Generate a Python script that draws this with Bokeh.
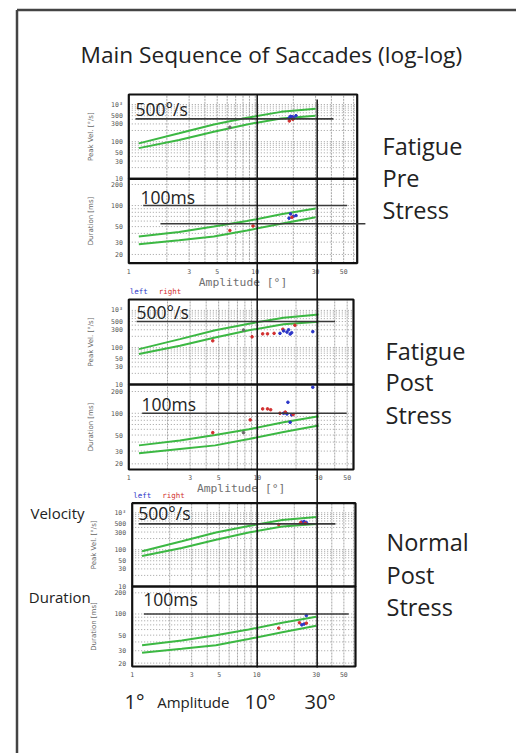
import numpy as np
from bokeh.plotting import figure
from bokeh.models import Range1d, LogScale
from bokeh.core.properties import value
from bokeh.embed import file_html
from bokeh.resources import INLINE

# ---------------- data ----------------
amp_ticks = [1, 3, 5, 10, 30, 50]
amp_tick_labels = ["1", "3", "5", "10", "30", "50"]
vel_ticks = [10, 30, 50, 100, 300, 500, 1000]
vel_tick_labels = ["10", "30", "50", "100", "300", "500", "10³"]
dur_ticks = [20, 30, 50, 100, 200]
dur_tick_labels = ["20", "30", "50", "100", "200"]

# normative main-sequence band (amplitude in deg)
norm_amp = [1.2, 2.5, 4.7, 8.6, 16, 30]
norm_vel_upper = [90, 168, 291, 438, 634, 770]
norm_vel_lower = [67, 111, 185, 291, 422, 495]
norm_dur_upper = [36, 42, 50, 60, 75, 91]
norm_dur_lower = [28, 32, 36, 44, 55, 68]

panel_names = [["Fatigue", "Pre", "Stress"],
               ["Fatigue", "Post", "Stress"],
               ["Normal", "Post", "Stress"]]
amp_max = [64, 56, 62]
vel_max = [1860, 1970, 1820]
dur_min = [15, 16.7, 17.9]
dur_max = [241, 250, 246]
vel_ref = [410, 500, 500]
dur_ref = [100, 100, 100]
extra_dur_ref = 55

# measured saccades: amplitude [deg], value, eye (l=left, r=right, n=none)
pre_vel_amp = [6.3, 18.5, 19, 19.5, 20, 21, 18.6, 19.8]
pre_vel = [245, 430, 480, 470, 450, 500, 360, 400]
pre_vel_eye = ["n", "l", "l", "l", "l", "l", "r", "r"]
pre_dur_amp = [6.3, 9.6, 18.5, 19, 20, 21, 19.5]
pre_dur = [44, 51, 66, 76, 70, 72, 68]
pre_dur_eye = ["r", "r", "l", "l", "l", "l", "r"]

post_vel_amp = [4.5, 7.8, 9.1, 11, 12, 13.5, 15.8, 19.6, 15, 16, 17, 17.5, 18, 18.5, 27]
post_vel = [151, 297, 194, 233, 233, 240, 310, 398, 240, 280, 260, 300, 230, 250, 267]
post_vel_eye = ["r", "n", "r", "r", "r", "r", "r", "r", "l", "l", "l", "l", "l", "l", "l"]
post_dur_amp = [27, 17.3, 18, 16, 17, 18.5, 11, 12, 12.7, 8.8, 4.5, 15, 16.5, 19, 7.8]
post_dur = [229, 142, 75, 100, 98, 95, 115, 115, 112, 81, 54, 100, 104, 96, 54]
post_dur_eye = ["l", "l", "l", "l", "l", "l", "r", "r", "r", "r", "r", "r", "r", "r", "n"]

norm_vel_amp = [23, 24, 25, 15, 24.5, 22.5]
norm_vel = [560, 580, 540, 480, 520, 540]
norm_vel_eye = ["l", "l", "l", "r", "r", "r"]
norm_dur_amp = [25, 24, 23, 15, 25, 22]
norm_dur = [95, 72, 70, 63, 74, 75]
norm_dur_eye = ["l", "l", "l", "r", "r", "r"]

samples = [
    (pre_vel_amp, pre_vel, pre_vel_eye, pre_dur_amp, pre_dur, pre_dur_eye),
    (post_vel_amp, post_vel, post_vel_eye, post_dur_amp, post_dur, post_dur_eye),
    (norm_vel_amp, norm_vel, norm_vel_eye, norm_dur_amp, norm_dur, norm_dur_eye),
]

# ---------------- layout (page pixels) ----------------
W, H = 516, 753
X0, Y0 = 0, 0
# left, right, top, divider, bottom of each panel
boxes = [(128.3, 356.7, 94, 178.3, 262.7),
         (128.3, 353.0, 299, 384, 469),
         (131.7, 355.0, 502.7, 586, 666)]
has_legend = [False, True, True]
has_xlabel = [True, True, False]
big_vel_pos = [(135, 108.3), (136, 311.7), (137.7, 512.3)]
big_dur_pos = [(140, 196.7), (141, 403.3), (142.7, 598.3)]
vel_ref_span = [(1.13, 41.5), (1.15, 40.2), (1.13, 42.8)]
dur_ref_span = [(1.30, 53.3), (1.27, 49.6), (1.24, 54.7)]
extra_ref_span = (1.78, 74.3)
side_pos = [(382, [145, 177.5, 209]), (385, [350, 381.7, 414.4]), (386, [541.9, 574.3, 606.3])]

EYE_COL = {"l": "#2b35c8", "r": "#d22f2f", "n": "#6a6a6a"}
GREEN = "#3cb843"
SANS = value("Open Sans")
MONO = value("DejaVu Sans Mono")


def log_range_x(px_lo, px_hi, v_lo, v_hi):
    k = (px_hi - px_lo) / (np.log10(v_hi) - np.log10(v_lo))
    ls = np.log10(v_lo) - (px_lo - X0) / k
    return Range1d(10 ** ls, 10 ** (ls + W / k))


def log_range_y(px_top, px_bot, v_top, v_bot):
    m = (px_bot - px_top) / (np.log10(v_top) - np.log10(v_bot))
    ls = np.log10(v_bot) + (px_bot - (Y0 + H)) / m
    le = np.log10(v_bot) + (px_bot - Y0) / m
    return Range1d(10 ** ls, 10 ** le)


p = figure(width=W, height=H, x_range=Range1d(X0, X0 + W), y_range=Range1d(Y0 + H, Y0),
           output_backend="svg", toolbar_location=None, min_border=0,
           x_axis_location=None, y_axis_location=None)
p.grid.visible = False
p.outline_line_color = None
p.background_fill_color = "white"

xr, xs, yr, ys = {}, {}, {}, {}
for i, (L, R, T, D, B) in enumerate(boxes):
    xr[f"amp{i}"] = log_range_x(L, R, 1, amp_max[i]); xs[f"amp{i}"] = LogScale()
    yr[f"vel{i}"] = log_range_y(T, D, vel_max[i], 10); ys[f"vel{i}"] = LogScale()
    yr[f"dur{i}"] = log_range_y(D, B, dur_max[i], dur_min[i]); ys[f"dur{i}"] = LogScale()
xr["ann"] = log_range_x(131, 256.7, 1, 10); xs["ann"] = LogScale()
p.extra_x_ranges = xr
p.extra_x_scales = xs
p.extra_y_ranges = yr
p.extra_y_scales = ys

# outer slide frame
p.segment(x0=[16.5, 16.5], y0=[9.5, 9.5], x1=[16.5, X0 + W], y1=[Y0 + H, 9.5],
          line_color="#444444", line_width=2.5)

# title
p.text(x=[80], y=[53.5], text=["Main Sequence of Saccades (log-log)"], text_font=SANS,
       text_font_size="22.7px", text_color="#222222", text_baseline="alphabetic")

minor_amp = [a for a in list(range(1, 10)) + list(range(10, 100, 10))]
minor_vel = list(range(20, 100, 10)) + list(range(100, 1000, 100)) + [1000]
minor_dur = list(range(20, 100, 10)) + [100, 200]

for i in range(3):
    xn, vn, dn = f"amp{i}", f"vel{i}", f"dur{i}"
    amax, vmax, dmin, dmax = amp_max[i], vel_max[i], dur_min[i], dur_max[i]
    ga = [a for a in minor_amp if 1 < a < amax]
    for yn, lo, hi, minor in ((vn, 10, vmax, minor_vel), (dn, dmin, dmax, minor_dur)):
        # vertical grid
        p.segment(x0=ga, y0=[lo] * len(ga), x1=ga, y1=[hi] * len(ga),
                  line_color="#a6a6a6", line_width=1, line_dash="2 1",
                  x_range_name=xn, y_range_name=yn)
        gv = [v for v in minor if lo < v < hi]
        p.segment(x0=[1] * len(gv), y0=gv, x1=[amax] * len(gv), y1=gv,
                  line_color="#a0a0a0", line_width=1, line_dash="1 2",
                  x_range_name=xn, y_range_name=yn)
        # frame
        p.quad(left=[1], right=[amax], bottom=[lo], top=[hi], fill_color=None,
               line_color="#111111", line_width=2.2, x_range_name=xn, y_range_name=yn)
    # norm curves
    for yy, yn in ((norm_vel_upper, vn), (norm_vel_lower, vn), (norm_dur_upper, dn), (norm_dur_lower, dn)):
        p.line(norm_amp, yy, line_color=GREEN, line_width=2, x_range_name=xn, y_range_name=yn)
    # samples
    va, vv, ve, da, dv, de = samples[i]
    p.scatter(va, vv, size=2.6, color=[EYE_COL[e] for e in ve], marker="circle",
              x_range_name=xn, y_range_name=vn)
    p.scatter(da, dv, size=2.6, color=[EYE_COL[e] for e in de], marker="circle",
              x_range_name=xn, y_range_name=dn)
    # tick labels
    p.text(x=[1] * len(vel_ticks), y=vel_ticks, text=vel_tick_labels, x_offset=-6,
           text_align="right", text_baseline="middle", text_font=MONO, text_font_size="6.5px",
           text_color="#555555", x_range_name=xn, y_range_name=vn)
    p.text(x=[1] * len(dur_ticks), y=dur_ticks, text=dur_tick_labels, x_offset=-6,
           text_align="right", text_baseline="middle", text_font=MONO, text_font_size="6.5px",
           text_color="#555555", x_range_name=xn, y_range_name=dn)
    p.text(x=amp_ticks, y=[dmin] * len(amp_ticks), text=amp_tick_labels, y_offset=8,
           text_align="center", text_baseline="middle", text_font=MONO, text_font_size="6.5px",
           text_color="#555555", x_range_name=xn, y_range_name=dn)
    # axis titles
    p.text(x=[1], y=[np.sqrt(10 * vmax)], text=["Peak Vel. [°/s]"], x_offset=-38, angle=np.pi / 2,
           text_align="center", text_baseline="middle", text_font=value("DejaVu Sans"),
           text_font_size="7px", text_color="#666666", x_range_name=xn, y_range_name=vn)
    p.text(x=[1], y=[np.sqrt(dmin * dmax)], text=["Duration [ms]"], x_offset=-38, angle=np.pi / 2,
           text_align="center", text_baseline="middle", text_font=value("DejaVu Sans"),
           text_font_size="7px", text_color="#666666", x_range_name=xn, y_range_name=dn)
    if has_xlabel[i]:
        p.text(x=[np.sqrt(amax)], y=[dmin], text=["Amplitude [°]"], y_offset=19,
               text_align="center", text_baseline="middle", text_font=MONO,
               text_font_size="11.3px", text_color="#707070", x_range_name=xn, y_range_name=dn)
    if has_legend[i]:
        p.text(x=[1, 1], y=[vmax, vmax], text=["left", "right"], x_offset=[1, 30], y_offset=-8,
               text_baseline="middle", text_font=MONO, text_font_size="7.5px",
               text_color=[EYE_COL["l"], EYE_COL["r"]], x_range_name=xn, y_range_name=vn)
    # hand-drawn reference lines
    a0, a1 = vel_ref_span[i]
    p.segment(x0=[a0], y0=[vel_ref[i]], x1=[a1], y1=[vel_ref[i]], line_color="#3a3a3a",
              line_width=1.6, x_range_name=xn, y_range_name=vn)
    a0, a1 = dur_ref_span[i]
    p.segment(x0=[a0], y0=[dur_ref[i]], x1=[a1], y1=[dur_ref[i]], line_color="#3a3a3a",
              line_width=1.6, x_range_name=xn, y_range_name=dn)
    if i == 0:
        p.segment(x0=[extra_ref_span[0]], y0=[extra_dur_ref], x1=[extra_ref_span[1]],
                  y1=[extra_dur_ref], line_color="#3a3a3a", line_width=1.6,
                  x_range_name=xn, y_range_name=dn)
    # big annotation texts
    p.text(x=[big_vel_pos[i][0]], y=[big_vel_pos[i][1]], text=["500°/s"], text_font=SANS,
           text_font_size="17.5px", text_color="#222222", text_baseline="middle")
    p.text(x=[big_dur_pos[i][0]], y=[big_dur_pos[i][1]], text=["100ms"], text_font=SANS,
           text_font_size="17.5px", text_color="#222222", text_baseline="middle")
    sx, sys_ = side_pos[i]
    p.text(x=[sx] * 3, y=sys_, text=panel_names[i], text_font=SANS, text_font_size="23.5px",
           text_color="#222222", text_baseline="middle")

# vertical marker lines at 10 and 30 degrees
p.segment(x0=[10, 30], y0=[94, 99], x1=[10, 30], y1=[667, 667], line_color="#111111",
          line_width=1.5, x_range_name="ann")

# side labels
p.text(x=[30, 28.3], y=[512.3, 596], text=["Velocity", "Duration"], text_font=SANS,
       text_font_size="15px", text_color="#222222", text_baseline="middle")

# bottom amplitude labels
p.text(x=[1, 10, 30], y=[701, 701, 701], text=["1°", "10°", "30°"], x_offset=3,
       text_align="center", text_baseline="alphabetic", text_font=SANS,
       text_font_size="20px", text_color="#222222", x_range_name="ann")
p.text(x=[156.7], y=[701], text=["Amplitude"], text_font=SANS, text_font_size="15px",
       text_color="#222222", text_baseline="alphabetic")

open("out.html", "w").write(file_html(p, INLINE))
